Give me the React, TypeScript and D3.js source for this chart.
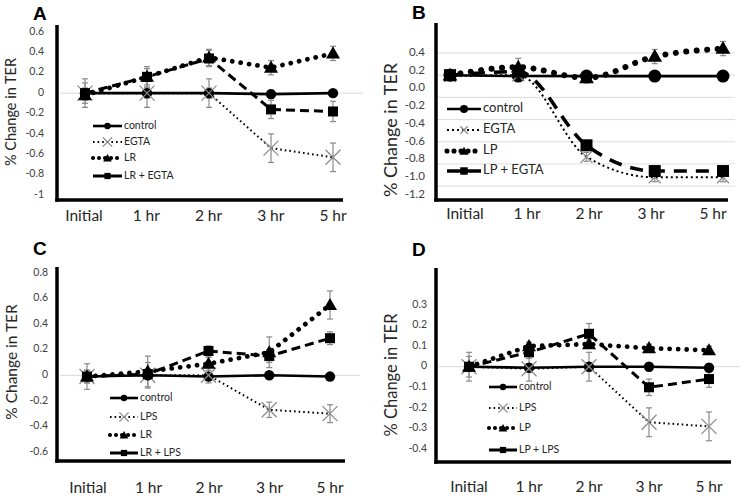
import React from "react";
import * as d3 from "d3";

const categories = ["Initial", "1 hr", "2 hr", "3 hr", "5 hr"];

// Panel A
const aTicks = [0.6, 0.4, 0.2, 0, -0.2, -0.4, -0.6, -0.8, -1];
const aControl = [0, 0, 0, -0.01, 0];
const aEGTA = [0, 0, 0, -0.54, -0.63];
const aLR = [-0.02, 0.16, 0.35, 0.25, 0.39];
const aLREGTA = [0, 0.16, 0.34, -0.16, -0.18];
const aControlErr = [0.05, 0.05, 0.05, 0.04, 0.03];
const aEGTAErr = [0.14, 0.14, 0.14, 0.14, 0.14];
const aLRErr = [0.05, 0.1, 0.08, 0.07, 0.07];
const aLREGTAErr = [0.1, 0.08, 0.08, 0.09, 0.1];

// Panel B
const bTicks = [0.4, 0.2, 0, -0.2, -0.4, -0.6, -0.8, -1.0, -1.2];
const bGrid = [0.4, 0.15, -0.1, -0.35, -0.6, -0.85, -1.1];
const bControl = [0.15, 0.14, 0.14, 0.14, 0.14];
const bEGTA = [0.14, 0.15, -0.77, -1.0, -1.0];
const bLP = [0.15, 0.24, 0.12, 0.36, 0.45];
const bLPEGTA = [0.15, 0.19, -0.64, -0.93, -0.93];
const bControlErr = [0.02, 0.02, 0.02, 0.02, 0.02];
const bEGTAErr = [0.05, 0.05, 0.05, 0.05, 0.05];
const bLPErr = [0.03, 0.1, 0.06, 0.08, 0.08];
const bLPEGTAErr = [0.04, 0.04, 0.04, 0.04, 0.04];

// Panel C
const cTicks = [0.8, 0.6, 0.4, 0.2, 0, -0.2, -0.4, -0.6];
const cControl = [-0.01, 0, -0.01, 0, -0.01];
const cLPS = [-0.01, 0, 0, -0.27, -0.3];
const cLR = [-0.01, 0.03, 0.09, 0.18, 0.55];
const cLRLPS = [-0.01, 0.01, 0.19, 0.15, 0.29];
const cControlErr = [0.03, 0.03, 0.03, 0.02, 0.02];
const cLPSErr = [0.1, 0.1, 0.06, 0.06, 0.07];
const cLRErr = [0.05, 0.12, 0.05, 0.12, 0.11];
const cLRLPSErr = [0.05, 0.04, 0.04, 0.05, 0.05];

// Panel D
const dTicks = [0.3, 0.2, 0.1, 0, -0.1, -0.2, -0.3, -0.4];
const dControl = [0, -0.005, 0, 0, -0.005];
const dLPS = [0, -0.01, 0, -0.27, -0.29];
const dLP = [0, 0.1, 0.11, 0.09, 0.08];
const dLPLPS = [0, 0.07, 0.16, -0.1, -0.06];
const dControlErr = [0.02, 0.02, 0.02, 0.02, 0.02];
const dLPSErr = [0.07, 0.06, 0.07, 0.07, 0.07];
const dLPErr = [0.02, 0.02, 0.02, 0.02, 0.02];
const dLPLPSErr = [0.05, 0.03, 0.05, 0.04, 0.04];

type Kind = "control" | "x" | "tri" | "sq";
interface Series { label: string; values: number[]; err: number[]; kind: Kind; }

interface PanelCfg {
  letter: string;
  letterPos: [number, number];
  ticks: number[];
  tickFmt: (v: number) => string;
  grid?: number[];
  zeroLine: boolean;
  yDomain: [number, number];
  yRange: [number, number];
  xDataRange: [number, number];
  xLabelRange: [number, number];
  axisX: number;
  axisTop: number;
  axisBottom: number;
  axisRight: number;
  gridRight: number;
  catLabelY: number;
  tickLabelX: number;
  titlePos: [number, number];
  titleSize: number;
  catSize: number;
  tickSize: number;
  legendX: [number, number];
  legendRows: number[];
  legendSize: number;
  big: boolean;
  curved: boolean;
  series: Series[];
}

const FONT = "Lato, 'Open Sans', sans-serif";

function lineStyle(kind: Kind, big: boolean) {
  switch (kind) {
    case "control":
      return { strokeWidth: 2.6, dash: undefined as string | undefined, cap: "butt" };
    case "x":
      return { strokeWidth: 2, dash: big ? "2 3" : "1.6 3", cap: "butt" };
    case "tri":
      return { strokeWidth: big ? 6 : 4.8, dash: big ? "0.01 10.5" : "0.01 8.5", cap: "round" };
    case "sq":
      return { strokeWidth: big ? 3.6 : 3, dash: big ? "13 9" : "9 5", cap: "butt" };
  }
}

function Marker({ kind, x, y, s, big }: { kind: Kind; x: number; y: number; s: number; big: boolean }) {
  if (kind === "control") return <circle cx={x} cy={y} r={(big ? 6.5 : 5.2) * s} fill="#000" />;
  if (kind === "sq") {
    const h = (big ? 6 : 5) * s;
    return <rect x={x - h} y={y - h} width={2 * h} height={2 * h} fill="#000" />;
  }
  if (kind === "tri") {
    const p = d3.symbol(d3.symbolTriangle, (big ? 95 : 85) * s * s)();
    return <path d={p || ""} transform={`translate(${x},${y + 1})`} fill="#000" />;
  }
  const h = (big ? 6 : 7.5) * s;
  return (
    <g stroke="#8a8a8a" strokeWidth={1.3}>
      <line x1={x - h} y1={y - h} x2={x + h} y2={y + h} />
      <line x1={x - h} y1={y + h} x2={x + h} y2={y - h} />
    </g>
  );
}

function Panel({ cfg }: { cfg: PanelCfg }) {
  const y = d3.scaleLinear().domain(cfg.yDomain).range(cfg.yRange);
  const xData = d3.scalePoint<string>().domain(categories).range(cfg.xDataRange);
  const xLabel = d3.scalePoint<string>().domain(categories).range(cfg.xLabelRange);
  const curve = cfg.curved ? d3.curveMonotoneX : d3.curveLinear;
  const gen = (kind: Kind) =>
    d3.line<number>()
      .x((_, i) => xData(categories[i]) as number)
      .y((v) => y(v))
      .curve(kind === "control" ? d3.curveLinear : curve);
  const order: Kind[] = ["control", "x", "tri", "sq"];
  const sorted = [...cfg.series].sort((a, b) => order.indexOf(a.kind) - order.indexOf(b.kind));
  return (
    <g>
      <text x={cfg.letterPos[0]} y={cfg.letterPos[1]} fontFamily="'Liberation Sans', Arial, sans-serif"
        fontWeight="bold" fontSize={19} dominantBaseline="middle">{cfg.letter}</text>
      {cfg.grid && cfg.grid.map((g, i) => (
        <line key={"g" + i} x1={cfg.axisX} x2={cfg.gridRight} y1={y(g)} y2={y(g)} stroke="#dcdcdc" strokeWidth={1} />
      ))}
      {cfg.zeroLine && (
        <line x1={cfg.axisX + 3} x2={cfg.gridRight} y1={y(0)} y2={y(0)} stroke="#d8d8d8" strokeWidth={1} />
      )}
      {cfg.ticks.map((t, i) => (
        <text key={"t" + i} x={cfg.tickLabelX} y={y(t)} textAnchor="end" dominantBaseline="middle"
          fontFamily={FONT} fontSize={cfg.tickSize} fill="#404040">{cfg.tickFmt(t)}</text>
      ))}
      {categories.map((c) => (
        <text key={c} x={xLabel(c)} y={cfg.catLabelY} textAnchor="middle" dominantBaseline="middle"
          fontFamily={FONT} fontSize={cfg.catSize} fill="#262626">{c}</text>
      ))}
      <text transform={`translate(${cfg.titlePos[0]},${cfg.titlePos[1]}) rotate(-90)`} textAnchor="middle"
        dominantBaseline="middle" fontFamily={FONT} fontSize={cfg.titleSize} fill="#262626">% Change in TER</text>
      {/* lines */}
      {sorted.map((s) => {
        const st = lineStyle(s.kind, cfg.big);
        return (
          <path key={"l" + s.label} d={gen(s.kind)(s.values) || ""} fill="none" stroke="#000"
            strokeWidth={st.strokeWidth} strokeDasharray={st.dash} strokeLinecap={st.cap as any} />
        );
      })}
      {/* error bars */}
      {sorted.map((s) =>
        s.values.map((v, i) => {
          const cx = xData(categories[i]) as number;
          const y1 = y(v + s.err[i]);
          const y2 = y(v - s.err[i]);
          return (
            <g key={"e" + s.label + i} stroke="#8a8a8a" strokeWidth={1.2}>
              <line x1={cx} x2={cx} y1={y1} y2={y2} />
              <line x1={cx - 3} x2={cx + 3} y1={y1} y2={y1} />
              <line x1={cx - 3} x2={cx + 3} y1={y2} y2={y2} />
            </g>
          );
        })
      )}
      {/* markers */}
      {sorted.map((s) =>
        s.values.map((v, i) => (
          <Marker key={"m" + s.label + i} kind={s.kind} x={xData(categories[i]) as number} y={y(v)} s={1} big={cfg.big} />
        ))
      )}
      {/* axes */}
      <line x1={cfg.axisX} x2={cfg.axisX} y1={cfg.axisTop} y2={cfg.axisBottom + 1.7} stroke="#000" strokeWidth={3.5} />
      <line x1={cfg.axisX - 1.7} x2={cfg.axisRight} y1={cfg.axisBottom} y2={cfg.axisBottom} stroke="#000" strokeWidth={3.5} />
      {/* legend */}
      {cfg.series.map((s, i) => {
        const st = lineStyle(s.kind, cfg.big);
        const ly = cfg.legendRows[i];
        const [lx1, lx2] = cfg.legendX;
        const mx = (lx1 + lx2) / 2;
        return (
          <g key={"lg" + s.label}>
            <line x1={lx1} x2={lx2} y1={ly} y2={ly} stroke="#000" strokeWidth={st.strokeWidth * (s.kind === "tri" ? 0.85 : 1)}
              strokeDasharray={s.kind === "tri" ? (cfg.big ? "0.01 7" : "0.01 6") : s.kind === "sq" ? undefined : st.dash}
              strokeLinecap={st.cap as any} />
            <Marker kind={s.kind} x={mx} y={ly} s={0.62} big={cfg.big} />
            <text x={lx2 + 2} y={ly} dominantBaseline="middle" fontFamily={FONT} fontSize={cfg.legendSize} fill="#262626">{s.label}</text>
          </g>
        );
      })}
    </g>
  );
}

const fmtPlain = (v: number) => (v === 0 ? "0" : String(v));
const fmtOne = (v: number) => v.toFixed(1);

const panels: PanelCfg[] = [
  {
    letter: "A", letterPos: [33, 15], ticks: aTicks, tickFmt: fmtPlain, zeroLine: true,
    yDomain: [-1, 0.6], yRange: [195, 32], xDataRange: [85, 333], xLabelRange: [84, 333],
    axisX: 57, axisTop: 25, axisBottom: 200, axisRight: 343, gridRight: 363,
    catLabelY: 217, tickLabelX: 44, titlePos: [12, 112], titleSize: 14.5, catSize: 15.5, tickSize: 10.5,
    legendX: [93, 122], legendRows: [126, 142, 158, 176], legendSize: 10.5, big: false, curved: false,
    series: [
      { label: "control", values: aControl, err: aControlErr, kind: "control" },
      { label: "EGTA", values: aEGTA, err: aEGTAErr, kind: "x" },
      { label: "LR", values: aLR, err: aLRErr, kind: "tri" },
      { label: "LR + EGTA", values: aLREGTA, err: aLREGTAErr, kind: "sq" },
    ],
  },
  {
    letter: "B", letterPos: [412, 14], ticks: bTicks, tickFmt: fmtOne, grid: bGrid, zeroLine: false,
    yDomain: [-1.2, 0.4], yRange: [195, 53], xDataRange: [450, 723], xLabelRange: [465, 713],
    axisX: 436, axisTop: 23, axisBottom: 200, axisRight: 728, gridRight: 735,
    catLabelY: 215, tickLabelX: 425, titlePos: [392, 130], titleSize: 18, catSize: 15.5, tickSize: 11.5,
    legendX: [447, 481], legendRows: [109, 130, 151, 171], legendSize: 13, big: true, curved: true,
    series: [
      { label: "control", values: bControl, err: bControlErr, kind: "control" },
      { label: "EGTA", values: bEGTA, err: bEGTAErr, kind: "x" },
      { label: "LP", values: bLP, err: bLPErr, kind: "tri" },
      { label: "LP + EGTA", values: bLPEGTA, err: bLPEGTAErr, kind: "sq" },
    ],
  },
  {
    letter: "C", letterPos: [33, 250], ticks: cTicks, tickFmt: fmtPlain, zeroLine: true,
    yDomain: [-0.6, 0.8], yRange: [452, 273], xDataRange: [87, 330], xLabelRange: [88, 330],
    axisX: 57, axisTop: 267, axisBottom: 461, axisRight: 345, gridRight: 360,
    catLabelY: 489, tickLabelX: 48, titlePos: [13, 362], titleSize: 15.5, catSize: 15.5, tickSize: 10.5,
    legendX: [110, 138], legendRows: [398, 417, 435, 453], legendSize: 10.5, big: false, curved: false,
    series: [
      { label: "control", values: cControl, err: cControlErr, kind: "control" },
      { label: "LPS", values: cLPS, err: cLPSErr, kind: "x" },
      { label: "LR", values: cLR, err: cLRErr, kind: "tri" },
      { label: "LR + LPS", values: cLRLPS, err: cLRLPSErr, kind: "sq" },
    ],
  },
  {
    letter: "D", letterPos: [412, 251], ticks: dTicks, tickFmt: fmtPlain, zeroLine: true,
    yDomain: [-0.4, 0.3], yRange: [449, 305], xDataRange: [469, 709], xLabelRange: [469, 709],
    axisX: 436, axisTop: 268, axisBottom: 462, axisRight: 731, gridRight: 740,
    catLabelY: 488, tickLabelX: 427, titlePos: [393, 375], titleSize: 16.5, catSize: 15.5, tickSize: 10.5,
    legendX: [489, 517], legendRows: [387, 408, 428, 450], legendSize: 10.5, big: false, curved: false,
    series: [
      { label: "control", values: dControl, err: dControlErr, kind: "control" },
      { label: "LPS", values: dLPS, err: dLPSErr, kind: "x" },
      { label: "LP", values: dLP, err: dLPErr, kind: "tri" },
      { label: "LP + LPS", values: dLPLPS, err: dLPLPSErr, kind: "sq" },
    ],
  },
];

export default function App() {
  return (
    <svg width={751} height={501} style={{ position: "absolute", left: 0, top: 0, background: "#fff" }}>
      <rect width={751} height={501} fill="#fff" />
      {panels.map((p) => <Panel key={p.letter} cfg={p} />)}
    </svg>
  );
}
